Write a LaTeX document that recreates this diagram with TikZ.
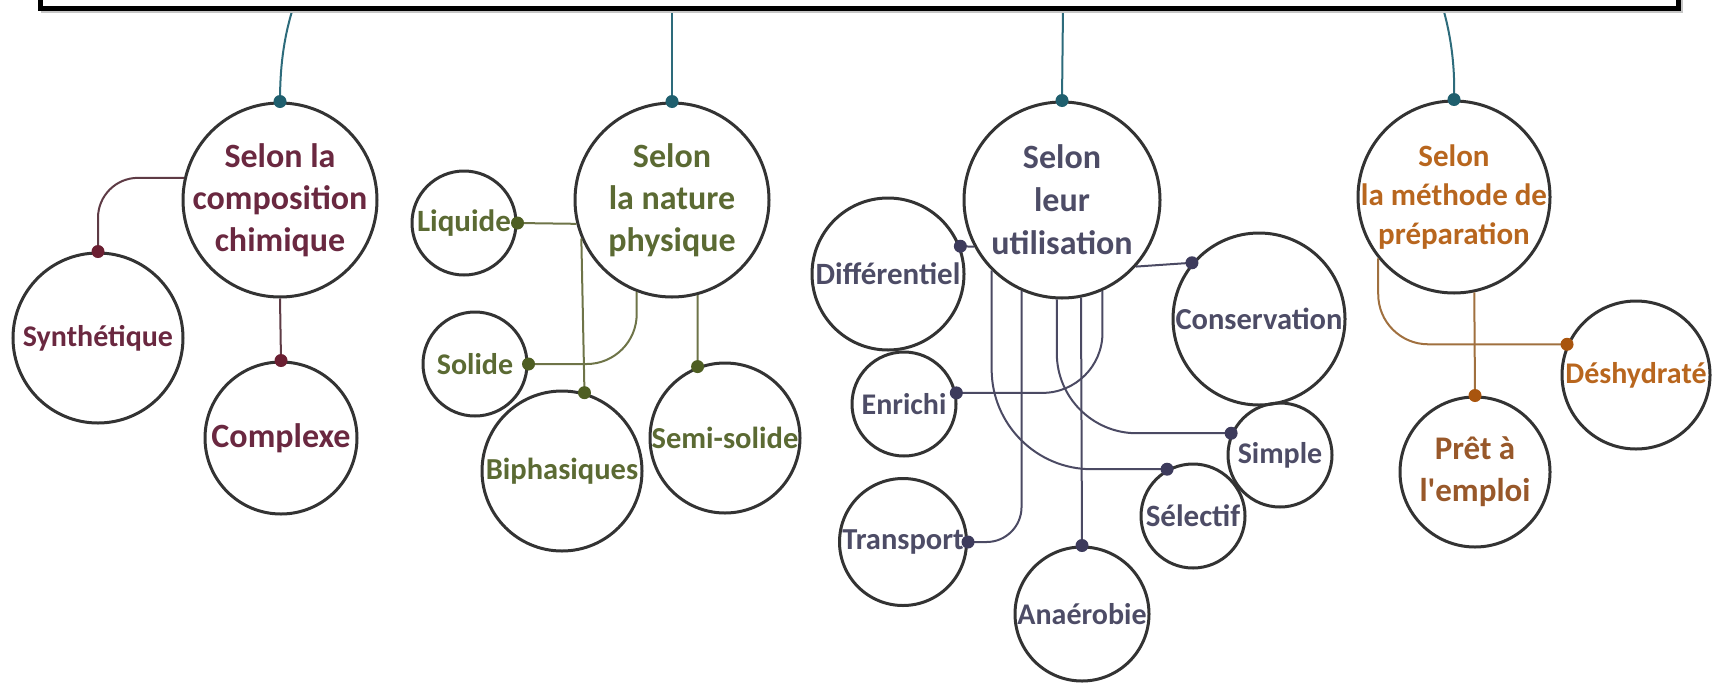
\documentclass[tikz,border=0pt]{standalone}
\usepackage{fontspec}
\setmainfont{Carlito}
\newfontfamily\plainquote{Carlito}[Ligatures=ResetAll]
\definecolor{teal1}{HTML}{2D6B7B}
\definecolor{tealdot}{HTML}{1F5F6E}
\definecolor{cline}{HTML}{333333}
\definecolor{aText}{HTML}{6A2840}
\definecolor{aDot}{HTML}{6B1F32}
\definecolor{aLine}{HTML}{5E3B45}
\definecolor{bText}{HTML}{5B6A33}
\definecolor{bDot}{HTML}{4E5E22}
\definecolor{bLine}{HTML}{6E7448}
\definecolor{cText}{HTML}{4D4C66}
\definecolor{cDot}{HTML}{3D3B5C}
\definecolor{cLine}{HTML}{4B4A63}
\definecolor{dText}{HTML}{B8661E}
\definecolor{dDot}{HTML}{A9550E}
\definecolor{dLine}{HTML}{A0703F}
\definecolor{pText}{HTML}{98582A}
\begin{document}
\begin{tikzpicture}[x=1pt,y=-1pt,
  bub/.style={circle,draw=cline,line width=3pt,inner sep=0pt,minimum size=#1},
  ta/.style={text=aText,align=center,font=\bfseries\fontsize{#1}{42}\selectfont},
  tb/.style={text=bText,align=center,font=\bfseries\fontsize{#1}{42}\selectfont},
  tc/.style={text=cText,align=center,font=\bfseries\fontsize{#1}{43}\selectfont},
  td/.style={text=dText,align=center,font=\bfseries\fontsize{#1}{39}\selectfont},
  tp/.style={text=pText,align=center,font=\bfseries\fontsize{#1}{42}\selectfont},
  la/.style={draw=aLine,line width=2pt},
  lb/.style={draw=bLine,line width=2pt},
  lc/.style={draw=cLine,line width=2pt},
  ld/.style={draw=dLine,line width=2pt},
  lt/.style={draw=teal1,line width=2pt}]
\useasboundingbox (0,0) rectangle (1723,683);

% main nodes
\node[bub=194pt,label={[ta=34]center:{Selon la\\composition\\chimique}}] (c1) at (280,200) {};
\node[bub=170pt,label={[ta=30]center:Synthétique}] (syn) at (98,338) {};
\node[bub=152pt,label={[ta=34]center:Complexe}] (cx) at (281,438) {};

\node[bub=194pt,label={[tb=34]center:{Selon\\la nature\\physique}}] (c2) at (672,200) {};
\node[bub=104pt,label={[tb=31]center:Liquide}] (liq) at (464,223) {};
\node[bub=104pt,label={[tb=30]center:Solide}] (sol) at (475,364) {};
\node[bub=160pt,label={[tb=30.5]center:Biphasiques}] (bi) at (562,471) {};
\node[bub=150pt,label={[tb=30.5]center:Semi-solide}] (semi) at (725,438) {};

\node[bub=196pt,label={[tc=34]center:{Selon\\leur\\utilisation}}] (c3) at (1062,200) {};
\node[bub=152pt,label={[tc=31]center:Différentiel}] (dif) at (888,274) {};
\node[bub=104pt,label={[tc=30]center:Enrichi}] (enr) at (904,404) {};
\node[bub=127pt,label={[tc=30.5]center:Transport}] (tr) at (903,542) {};
\node[bub=134pt,label={[tc=30]center:Anaérobie}] (ana) at (1082,614) {};
\node[bub=172pt,label={[tc=30.5]center:Conservation}] (cons) at (1259,319) {};
\node[bub=104pt,label={[tc=30]center:Simple}] (sim) at (1280,455) {};
\node[bub=104pt,label={[tc=31]center:Sélectif}] (sel) at (1193,516) {};

\node[bub=192pt,label={[td=31]center:{Selon\\la méthode de\\préparation}}] (c4) at (1454,197) {};
\node[bub=148pt,label={[td=30]center:Déshydraté}] (des) at (1636,375) {};
\node[bub=150pt,label={[tp=33]center:{Prêt à\\l{\plainquote\bfseries '}emploi}}] (pret) at (1475,472) {};

% top connectors
\coordinate (t1) at (293,8);
\coordinate (t2) at (672,8);
\coordinate (t3) at (1063,8);
\coordinate (t4) at (1443,8);
\draw[lt] (t1) .. controls (283,40) and (280,70) .. (c1.north);
\draw[lt] (t2) -- (c2.north);
\draw[lt] (t3) -- (c3.north);
\draw[lt] (t4) .. controls (1452,40) and (1455,70) .. (c4.north);

% top box
\draw[gray!45,line width=4pt] (43,-30) rectangle (1681,11);
\draw[black,line width=5pt,fill=white] (40,-30) rectangle (1678,8);

% group 1
\draw[la,rounded corners=40] (c1.167.5) -| (syn.90);
\draw[la] (c1.south) -- (cx.north);
% group 2
\draw[lb] (liq.east) -- (c2.194);
\draw[lb,rounded corners=50] (sol.east) -| (c2.249);
\draw[lb] (c2.203.7) -- (bi.74.5);
\draw[lb] (c2.285.6) -- (semi.111.4);
% group 3
\draw[lc] (dif.21.5) -- (c3.208);
\draw[lc] (c3.318.5) -- (cons.140.3);
\draw[lc,rounded corners=60] (c3.294.7) |- (enr.12);
\draw[lc,rounded corners=100] (c3.225.2) |- (sel.119.6);
\draw[lc,rounded corners=80] (c3.267.1) |- (sim.156);
\draw[lc,rounded corners=35] (c3.246.5) |- (tr.east);
\draw[lc] (c3.281.8) -- (ana.north);
% group 4
\draw[ld] (c4.282.6) -- (pret.north);
\draw[ld,rounded corners=50] (c4.219.5) |- (des.156.2);

% dots
\foreach \p in {c1.north,c2.north,c3.north,c4.north}
  \fill[tealdot] (\p) circle (6.5pt);
\foreach \p in {syn.90,cx.north}
  \fill[aDot] (\p) circle (6.5pt);
\foreach \p in {liq.east,sol.east,bi.74.5,semi.111.4}
  \fill[bDot] (\p) circle (6.5pt);
\foreach \p in {dif.21.5,enr.12,tr.east,ana.north,sel.119.6,sim.156,cons.140.3}
  \fill[cDot] (\p) circle (6.5pt);
\foreach \p in {pret.north,des.156.2}
  \fill[dDot] (\p) circle (6.5pt);
\end{tikzpicture}
\end{document}
